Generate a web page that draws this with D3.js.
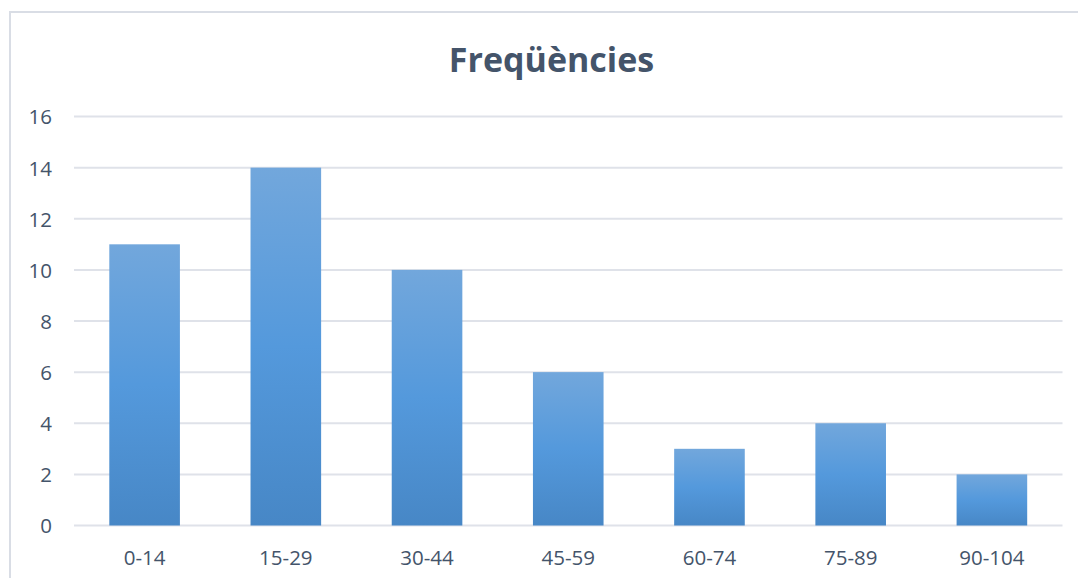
<!DOCTYPE html>
<html>
<head>
<meta charset="utf-8">
<script src="https://cdn.jsdelivr.net/npm/d3@7"></script>
<style>
  html, body { margin: 0; padding: 0; background: #ffffff; }
  svg { display: block; }
</style>
</head>
<body>
<svg id="chart" width="1078" height="578"></svg>
<script>
// Frequency table: age ranges and counts
const categories = ["0-14", "15-29", "30-44", "45-59", "60-74", "75-89", "90-104"];
const counts = [11, 14, 10, 6, 3, 4, 2];
const yTicks = [0, 2, 4, 6, 8, 10, 12, 14, 16];
const title = "Freqüències";

const svg = d3.select("#chart");
const W = 1078, H = 578;
const plot = { left: 74, right: 1062.5, top: 116.5, bottom: 525.5 };

// Outer chart frame
svg.append("rect")
  .attr("x", 10).attr("y", 12)
  .attr("width", 1100).attr("height", 600)
  .attr("fill", "#ffffff")
  .attr("stroke", "#d9dde5").attr("stroke-width", 2);

// Vertical gradient used for each bar
const defs = svg.append("defs");
const grad = defs.append("linearGradient")
  .attr("id", "barGrad")
  .attr("x1", 0).attr("y1", 0).attr("x2", 0).attr("y2", 1);
grad.append("stop").attr("offset", "0%").attr("stop-color", "#72a7dc");
grad.append("stop").attr("offset", "50%").attr("stop-color", "#5499dc");
grad.append("stop").attr("offset", "100%").attr("stop-color", "#4787c6");

const x = d3.scaleBand()
  .domain(categories)
  .range([plot.left, plot.right])
  .paddingInner(0.5)
  .paddingOuter(0.25);

const y = d3.scaleLinear()
  .domain([0, 16])
  .range([plot.bottom, plot.top]);

// Horizontal gridlines
svg.append("g")
  .selectAll("line")
  .data(yTicks)
  .join("line")
  .attr("x1", plot.left).attr("x2", plot.right)
  .attr("y1", d => y(d)).attr("y2", d => y(d))
  .attr("stroke", "#dfe2e9").attr("stroke-width", 2);

// Y-axis labels
const yAxis = d3.axisLeft(y).tickValues(yTicks).tickSize(0).tickPadding(0);
const gy = svg.append("g")
  .attr("transform", `translate(52,0)`)
  .call(yAxis);
gy.select(".domain").remove();
gy.selectAll("text")
  .attr("font-family", "'Open Sans', sans-serif")
  .attr("font-size", 20.5)
  .attr("fill", "#44546a")
  .attr("dy", "0.36em");

// Bars
svg.append("g")
  .selectAll("rect")
  .data(counts)
  .join("rect")
  .attr("x", (d, i) => x(categories[i]))
  .attr("y", d => y(d))
  .attr("width", x.bandwidth())
  .attr("height", d => y(0) - y(d))
  .attr("fill", "url(#barGrad)");

// Category axis labels
const xAxis = d3.axisBottom(x).tickSize(0).tickPadding(0);
const gx = svg.append("g")
  .attr("transform", `translate(0,${plot.bottom})`)
  .call(xAxis);
gx.select(".domain").remove();
gx.selectAll("text")
  .attr("font-family", "'Open Sans', sans-serif")
  .attr("font-size", 20.5)
  .attr("fill", "#44546a")
  .attr("dy", null)
  .attr("y", 39);

// Title
svg.append("text")
  .attr("x", 551.5).attr("y", 72)
  .attr("text-anchor", "middle")
  .attr("font-family", "'Open Sans', sans-serif")
  .attr("font-weight", "bold")
  .attr("font-size", 34)
  .attr("fill", "#44546a")
  .text(title);
</script>
</body>
</html>
